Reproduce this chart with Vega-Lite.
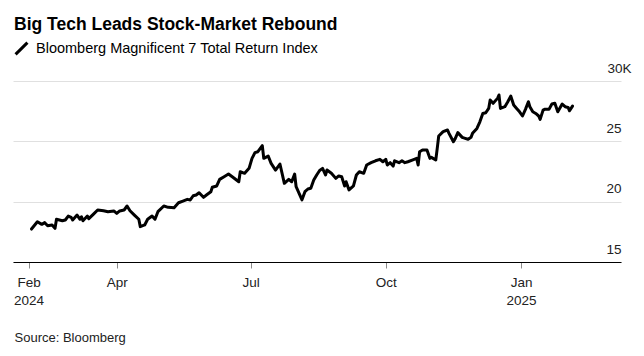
{
  "$schema": "https://vega.github.io/schema/vega-lite/v6.json",
  "width": 608,
  "height": 181,
  "autosize": "none",
  "padding": {"left": 13, "top": 81, "right": 23, "bottom": 94},
  "background": "white",
  "config": {"view": {"stroke": null}, "font": "Liberation Sans"},
  "title": {
    "text": "Big Tech Leads Stock-Market Rebound",
    "anchor": "start",
    "frame": "group",
    "fontSize": 17.5,
    "fontWeight": "bold",
    "color": "black",
    "baseline": "alphabetic",
    "dx": 1,
    "offset": -6
  },
  "data": {
    "values": [
      {"date": "2024-02-03", "value": 17.73},
      {"date": "2024-02-07", "value": 18.34},
      {"date": "2024-02-10", "value": 18.12},
      {"date": "2024-02-12", "value": 18.26},
      {"date": "2024-02-14", "value": 18.00},
      {"date": "2024-02-17", "value": 18.07},
      {"date": "2024-02-19", "value": 17.79},
      {"date": "2024-02-20", "value": 18.54},
      {"date": "2024-02-24", "value": 18.42},
      {"date": "2024-02-26", "value": 18.48},
      {"date": "2024-02-28", "value": 18.81},
      {"date": "2024-03-01", "value": 18.70},
      {"date": "2024-03-02", "value": 18.48},
      {"date": "2024-03-05", "value": 18.89},
      {"date": "2024-03-07", "value": 18.54},
      {"date": "2024-03-08", "value": 18.75},
      {"date": "2024-03-09", "value": 18.42},
      {"date": "2024-03-12", "value": 18.81},
      {"date": "2024-03-13", "value": 18.59},
      {"date": "2024-03-16", "value": 18.95},
      {"date": "2024-03-19", "value": 19.31},
      {"date": "2024-03-23", "value": 19.25},
      {"date": "2024-03-26", "value": 19.17},
      {"date": "2024-03-30", "value": 19.23},
      {"date": "2024-04-01", "value": 19.03},
      {"date": "2024-04-03", "value": 19.23},
      {"date": "2024-04-06", "value": 19.31},
      {"date": "2024-04-08", "value": 19.64},
      {"date": "2024-04-10", "value": 19.25},
      {"date": "2024-04-13", "value": 18.89},
      {"date": "2024-04-16", "value": 18.54},
      {"date": "2024-04-17", "value": 17.93},
      {"date": "2024-04-20", "value": 18.07},
      {"date": "2024-04-22", "value": 18.54},
      {"date": "2024-04-25", "value": 18.81},
      {"date": "2024-04-27", "value": 18.54},
      {"date": "2024-04-29", "value": 19.17},
      {"date": "2024-05-03", "value": 19.64},
      {"date": "2024-05-06", "value": 19.53},
      {"date": "2024-05-10", "value": 19.50},
      {"date": "2024-05-13", "value": 19.91},
      {"date": "2024-05-16", "value": 20.05},
      {"date": "2024-05-19", "value": 20.19},
      {"date": "2024-05-21", "value": 20.14},
      {"date": "2024-05-23", "value": 20.49},
      {"date": "2024-05-25", "value": 20.55},
      {"date": "2024-05-27", "value": 20.74},
      {"date": "2024-05-30", "value": 20.36},
      {"date": "2024-06-01", "value": 20.55},
      {"date": "2024-06-04", "value": 20.82},
      {"date": "2024-06-05", "value": 21.19},
      {"date": "2024-06-08", "value": 21.30},
      {"date": "2024-06-10", "value": 21.85},
      {"date": "2024-06-13", "value": 22.07},
      {"date": "2024-06-16", "value": 22.29},
      {"date": "2024-06-19", "value": 22.02},
      {"date": "2024-06-23", "value": 21.65},
      {"date": "2024-06-24", "value": 22.48},
      {"date": "2024-06-27", "value": 22.35},
      {"date": "2024-06-30", "value": 22.76},
      {"date": "2024-07-02", "value": 23.59},
      {"date": "2024-07-04", "value": 24.06},
      {"date": "2024-07-06", "value": 24.14},
      {"date": "2024-07-09", "value": 24.64},
      {"date": "2024-07-10", "value": 23.59},
      {"date": "2024-07-13", "value": 23.78},
      {"date": "2024-07-15", "value": 23.17},
      {"date": "2024-07-18", "value": 22.62},
      {"date": "2024-07-21", "value": 23.12},
      {"date": "2024-07-24", "value": 21.52},
      {"date": "2024-07-27", "value": 21.85},
      {"date": "2024-07-29", "value": 21.65},
      {"date": "2024-07-31", "value": 22.29},
      {"date": "2024-08-01", "value": 21.24},
      {"date": "2024-08-05", "value": 20.15},
      {"date": "2024-08-07", "value": 20.83},
      {"date": "2024-08-09", "value": 21.05},
      {"date": "2024-08-11", "value": 21.11},
      {"date": "2024-08-13", "value": 21.79},
      {"date": "2024-08-15", "value": 22.21},
      {"date": "2024-08-17", "value": 22.58},
      {"date": "2024-08-19", "value": 22.76},
      {"date": "2024-08-21", "value": 22.21},
      {"date": "2024-08-22", "value": 22.62},
      {"date": "2024-08-25", "value": 22.35},
      {"date": "2024-08-28", "value": 21.93},
      {"date": "2024-08-30", "value": 22.13},
      {"date": "2024-09-01", "value": 22.07},
      {"date": "2024-09-03", "value": 21.30},
      {"date": "2024-09-04", "value": 21.65},
      {"date": "2024-09-06", "value": 20.97},
      {"date": "2024-09-09", "value": 21.30},
      {"date": "2024-09-11", "value": 22.21},
      {"date": "2024-09-13", "value": 22.48},
      {"date": "2024-09-16", "value": 22.35},
      {"date": "2024-09-18", "value": 23.04},
      {"date": "2024-09-21", "value": 23.23},
      {"date": "2024-09-24", "value": 23.39},
      {"date": "2024-09-27", "value": 23.51},
      {"date": "2024-09-29", "value": 23.31},
      {"date": "2024-10-01", "value": 23.51},
      {"date": "2024-10-02", "value": 23.04},
      {"date": "2024-10-04", "value": 23.23},
      {"date": "2024-10-06", "value": 22.95},
      {"date": "2024-10-07", "value": 23.39},
      {"date": "2024-10-10", "value": 23.23},
      {"date": "2024-10-12", "value": 23.39},
      {"date": "2024-10-14", "value": 23.23},
      {"date": "2024-10-16", "value": 23.31},
      {"date": "2024-10-19", "value": 23.45},
      {"date": "2024-10-22", "value": 23.59},
      {"date": "2024-10-23", "value": 23.04},
      {"date": "2024-10-24", "value": 24.14},
      {"date": "2024-10-26", "value": 24.28},
      {"date": "2024-10-29", "value": 24.28},
      {"date": "2024-10-31", "value": 23.59},
      {"date": "2024-11-01", "value": 23.67},
      {"date": "2024-11-04", "value": 23.45},
      {"date": "2024-11-05", "value": 24.42},
      {"date": "2024-11-06", "value": 25.44},
      {"date": "2024-11-09", "value": 25.80},
      {"date": "2024-11-12", "value": 25.94},
      {"date": "2024-11-13", "value": 25.66},
      {"date": "2024-11-16", "value": 24.97},
      {"date": "2024-11-17", "value": 25.17},
      {"date": "2024-11-19", "value": 25.72},
      {"date": "2024-11-22", "value": 25.33},
      {"date": "2024-11-24", "value": 25.25},
      {"date": "2024-11-26", "value": 25.17},
      {"date": "2024-11-28", "value": 25.33},
      {"date": "2024-11-29", "value": 25.66},
      {"date": "2024-12-02", "value": 26.07},
      {"date": "2024-12-04", "value": 26.62},
      {"date": "2024-12-06", "value": 27.31},
      {"date": "2024-12-08", "value": 27.37},
      {"date": "2024-12-10", "value": 27.73},
      {"date": "2024-12-11", "value": 28.42},
      {"date": "2024-12-13", "value": 28.15},
      {"date": "2024-12-16", "value": 28.56},
      {"date": "2024-12-17", "value": 28.84},
      {"date": "2024-12-18", "value": 27.73},
      {"date": "2024-12-21", "value": 27.87},
      {"date": "2024-12-23", "value": 28.28},
      {"date": "2024-12-25", "value": 28.75},
      {"date": "2024-12-27", "value": 28.01},
      {"date": "2024-12-29", "value": 27.73},
      {"date": "2024-12-31", "value": 27.45},
      {"date": "2025-01-02", "value": 27.10},
      {"date": "2025-01-04", "value": 27.65},
      {"date": "2025-01-06", "value": 28.28},
      {"date": "2025-01-07", "value": 27.87},
      {"date": "2025-01-09", "value": 27.45},
      {"date": "2025-01-11", "value": 27.31},
      {"date": "2025-01-13", "value": 27.10},
      {"date": "2025-01-14", "value": 26.82},
      {"date": "2025-01-16", "value": 27.59},
      {"date": "2025-01-17", "value": 27.65},
      {"date": "2025-01-20", "value": 27.65},
      {"date": "2025-01-22", "value": 28.09},
      {"date": "2025-01-24", "value": 28.15},
      {"date": "2025-01-26", "value": 27.45},
      {"date": "2025-01-29", "value": 28.09},
      {"date": "2025-01-31", "value": 27.87},
      {"date": "2025-02-02", "value": 27.81},
      {"date": "2025-02-03", "value": 27.53},
      {"date": "2025-02-05", "value": 27.92}
    ]
  },
  "mark": {"type": "line", "strokeWidth": 3, "strokeJoin": "round", "strokeCap": "round"},
  "encoding": {
    "x": {
      "field": "date",
      "type": "temporal",
      "scale": {"domain": [{"year": 2024, "month": 1, "date": 21, "hours": 10}, {"year": 2025, "month": 3, "date": 10}]},
      "axis": {
        "values": [
          {"year": 2024, "month": 2, "date": 1},
          {"year": 2024, "month": 4, "date": 1},
          {"year": 2024, "month": 7, "date": 1},
          {"year": 2024, "month": 10, "date": 1},
          {"year": 2025, "month": 1, "date": 1}
        ],
        "labelExpr": "month(datum.value) == 1 ? ['Feb', '2024'] : (month(datum.value) == 0 ? ['Jan', '2025'] : timeFormat(datum.value, '%b'))",
        "grid": false,
        "domainColor": "black",
        "domainWidth": 1,
        "tickColor": "#8a8a8a",
        "tickSize": 6,
        "tickWidth": 1,
        "labelPadding": 7,
        "labelFontSize": 13.5,
        "labelColor": "#222",
        "labelLineHeight": 18,
        "labelAlign": "center",
        "labelFlush": false,
        "labelOverlap": false,
        "title": "Source: Bloomberg",
        "titleX": 1,
        "titleY": 79,
        "titleAnchor": "start",
        "titleAlign": "left",
        "titleBaseline": "alphabetic",
        "titleFontWeight": "normal",
        "titleFontSize": 13,
        "titleColor": "#222"
      }
    },
    "y": {
      "field": "value",
      "type": "quantitative",
      "scale": {"domain": [15, 30], "nice": false, "zero": false},
      "axis": {
        "orient": "right",
        "values": [15, 20, 25, 30],
        "labelExpr": "datum.value == 30 ? '30K' : datum.label",
        "domain": false,
        "ticks": false,
        "labelPadding": {"condition": {"test": "datum.value == 30", "value": 10}, "value": 0},
        "labelAlign": "right",
        "labelBaseline": "alphabetic",
        "labelOffset": -9,
        "gridColor": "#e0e0e0",
        "gridWidth": 1,
        "labelFontSize": 13.5,
        "labelColor": "#222",
        "title": null
      }
    },
    "color": {
      "datum": "Bloomberg Magnificent 7 Total Return Index",
      "scale": {"range": ["black"]},
      "legend": {
        "orient": "none",
        "legendX": 1,
        "legendY": -40,
        "title": null,
        "symbolType": "M-1,1L1,-1",
        "symbolSize": 140,
        "symbolStrokeWidth": 3,
        "symbolFillColor": "transparent",
        "labelFontSize": 14.5,
        "labelLimit": 0,
        "labelColor": "black",
        "padding": 0,
        "labelOffset": 7,
        "symbolOffset": 0
      }
    }
  }
}
